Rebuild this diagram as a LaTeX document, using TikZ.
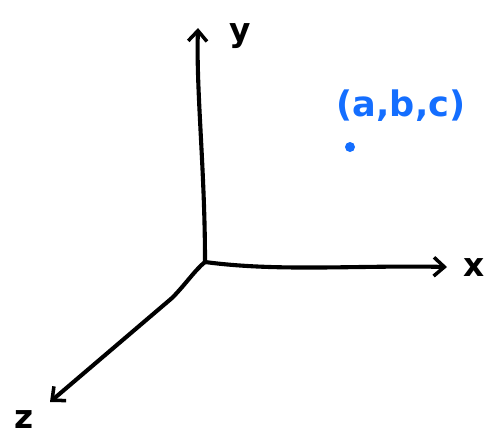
\documentclass[tikz,border=0pt]{standalone}
\usepackage{fontspec}
\setmainfont{DejaVu Sans}
\usetikzlibrary{arrows.meta,positioning}
\definecolor{penblue}{RGB}{20,110,255}

\begin{document}
\begin{tikzpicture}[x=0.03cm, y=-0.03cm,
		every node/.style={font=\fontsize{28}{32}\selectfont\bfseries},
		axis/.style={-{Straight Barb[length=9pt,width=16pt,line width=3pt]}, line width=3.5pt, line cap=round, line join=round},
		pointlabel/.style={text=penblue, font=\fontsize{30}{34}\selectfont\bfseries}]
	\useasboundingbox (0,0) rectangle (485,438);
	\coordinate (O) at (205,262);
	\coordinate (xend) at (447,267);
	\coordinate (yend) at (198,28);
	\coordinate (zend) at (50,402);
	\draw[axis] (O) .. controls (205,170) and (196,90) .. (yend);
	\draw[axis] (O) .. controls (280,272) and (360,265) .. (xend);
	\draw[axis] (O) .. controls (195,270) and (185,285) .. (172,298) -- (zend);
	\node (ylabel) at (240,36) {y};
	\node (xlabel) at (474,268) {x};
	\node (zlabel) at (24,420) {z};
	\fill[penblue] (350,147) circle (5) coordinate (P);
	\node[pointlabel] (plabel) at (401,106) {(a,b,c)};
\end{tikzpicture}
\end{document}
